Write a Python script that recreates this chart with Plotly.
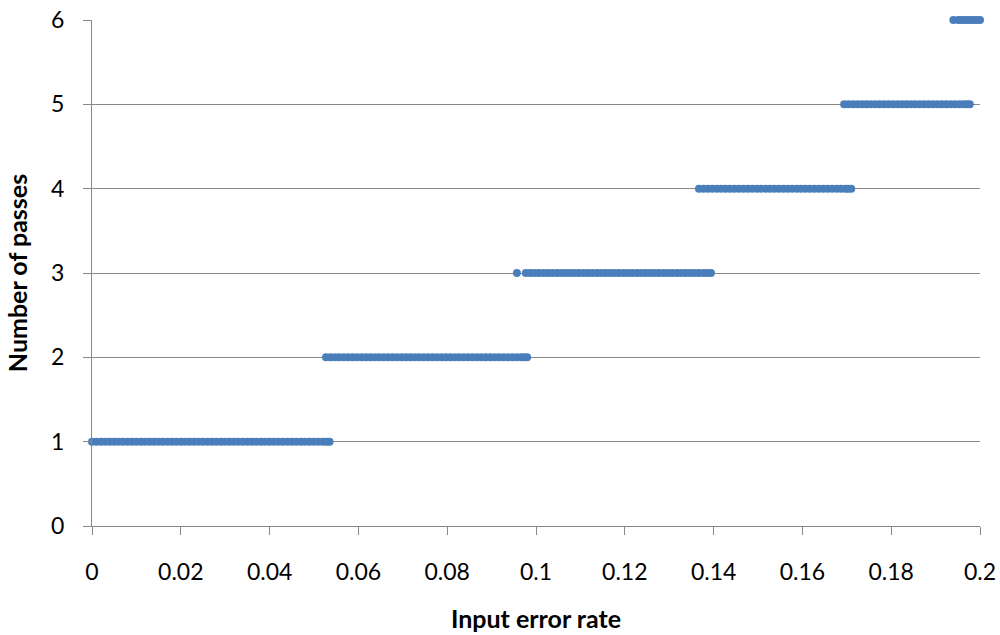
import plotly.graph_objects as go

# x values (input error rate) read per level of "Number of passes"
x_level1 = [0.0000, 0.0010, 0.0020, 0.0030, 0.0040, 0.0050, 0.0060, 0.0070, 0.0080, 0.0090,
            0.0100, 0.0110, 0.0120, 0.0130, 0.0140, 0.0150, 0.0160, 0.0170, 0.0180, 0.0190,
            0.0200, 0.0210, 0.0220, 0.0230, 0.0240, 0.0250, 0.0260, 0.0270, 0.0280, 0.0290,
            0.0300, 0.0310, 0.0320, 0.0330, 0.0340, 0.0350, 0.0360, 0.0370, 0.0380, 0.0390,
            0.0400, 0.0410, 0.0420, 0.0430, 0.0440, 0.0450, 0.0460, 0.0470, 0.0480, 0.0490,
            0.0500, 0.0510, 0.0520, 0.0528, 0.0535]
x_level2 = [0.0527, 0.0537, 0.0547, 0.0557, 0.0567, 0.0577, 0.0587, 0.0597, 0.0607, 0.0617,
            0.0627, 0.0637, 0.0647, 0.0657, 0.0667, 0.0677, 0.0687, 0.0697, 0.0707, 0.0717,
            0.0727, 0.0737, 0.0747, 0.0757, 0.0767, 0.0777, 0.0787, 0.0797, 0.0807, 0.0817,
            0.0827, 0.0837, 0.0847, 0.0857, 0.0867, 0.0877, 0.0887, 0.0897, 0.0907, 0.0917,
            0.0927, 0.0937, 0.0947, 0.0957, 0.0967, 0.0974, 0.0980]
x_level3 = [0.0957, 0.0977, 0.0987, 0.0997, 0.1007, 0.1017, 0.1027, 0.1037, 0.1047, 0.1057,
            0.1067, 0.1077, 0.1087, 0.1097, 0.1107, 0.1117, 0.1127, 0.1137, 0.1147, 0.1157,
            0.1167, 0.1177, 0.1187, 0.1197, 0.1207, 0.1217, 0.1227, 0.1237, 0.1247, 0.1257,
            0.1267, 0.1277, 0.1287, 0.1297, 0.1307, 0.1317, 0.1327, 0.1337, 0.1347, 0.1357,
            0.1367, 0.1377, 0.1386, 0.1394]
x_level4 = [0.1367, 0.1377, 0.1387, 0.1397, 0.1407, 0.1417, 0.1427, 0.1437, 0.1447, 0.1457,
            0.1467, 0.1477, 0.1487, 0.1497, 0.1507, 0.1517, 0.1527, 0.1537, 0.1547, 0.1557,
            0.1567, 0.1577, 0.1587, 0.1597, 0.1607, 0.1617, 0.1627, 0.1637, 0.1647, 0.1657,
            0.1667, 0.1677, 0.1687, 0.1697, 0.1703, 0.1710]
x_level5 = [0.1694, 0.1704, 0.1714, 0.1724, 0.1734, 0.1744, 0.1754, 0.1764, 0.1774, 0.1784,
            0.1794, 0.1804, 0.1814, 0.1824, 0.1834, 0.1844, 0.1854, 0.1864, 0.1874, 0.1884,
            0.1894, 0.1904, 0.1914, 0.1924, 0.1934, 0.1944, 0.1954, 0.1964, 0.1971, 0.1977]
x_level6 = [0.1940, 0.1951, 0.1958, 0.1965, 0.1972, 0.1979, 0.1986, 0.1993, 0.2000]

levels = [1, 2, 3, 4, 5, 6]
x_by_level = [x_level1, x_level2, x_level3, x_level4, x_level5, x_level6]

xs, ys = [], []
for lvl, xl in zip(levels, x_by_level):
    xs.extend(xl)
    ys.extend([lvl] * len(xl))

x_ticks = [0, 0.02, 0.04, 0.06, 0.08, 0.1, 0.12, 0.14, 0.16, 0.18, 0.2]
x_tick_text = ["0", "0.02", "0.04", "0.06", "0.08", "0.1", "0.12", "0.14", "0.16", "0.18", "0.2"]
y_ticks = [0, 1, 2, 3, 4, 5, 6]

fig = go.Figure()
fig.add_trace(go.Scatter(
    x=xs, y=ys, mode="markers",
    marker=dict(color="#4a7ebb", size=8, line=dict(width=0)),
    showlegend=False, cliponaxis=False,
))

font_family = "Lato, 'Open Sans', sans-serif"
fig.update_layout(
    width=1000, height=635,
    margin=dict(l=92, r=20, t=20, b=109),
    paper_bgcolor="white", plot_bgcolor="white",
    font=dict(family=font_family, size=23, color="black"),
    xaxis=dict(
        range=[0, 0.2], tickvals=x_ticks, ticktext=x_tick_text,
        showgrid=False, zeroline=False, automargin=False,
        showline=True, linecolor="#888888", linewidth=1,
        ticks="outside", ticklen=8, tickcolor="#888888",
        tickfont=dict(size=23), ticklabelstandoff=17,
        title=dict(text="<b>Input error rate</b>", font=dict(size=25), standoff=26),
    ),
    yaxis=dict(
        range=[0, 6], tickvals=y_ticks,
        showgrid=True, gridcolor="#888888", gridwidth=1, zeroline=False, automargin=False,
        showline=True, linecolor="#888888", linewidth=1,
        ticks="outside", ticklen=8, tickcolor="#888888",
        tickfont=dict(size=23), ticklabelstandoff=14,
        title=dict(text="<b>Number of passes</b>", font=dict(size=25), standoff=16),
    ),
)

fig.write_html("out.html")
